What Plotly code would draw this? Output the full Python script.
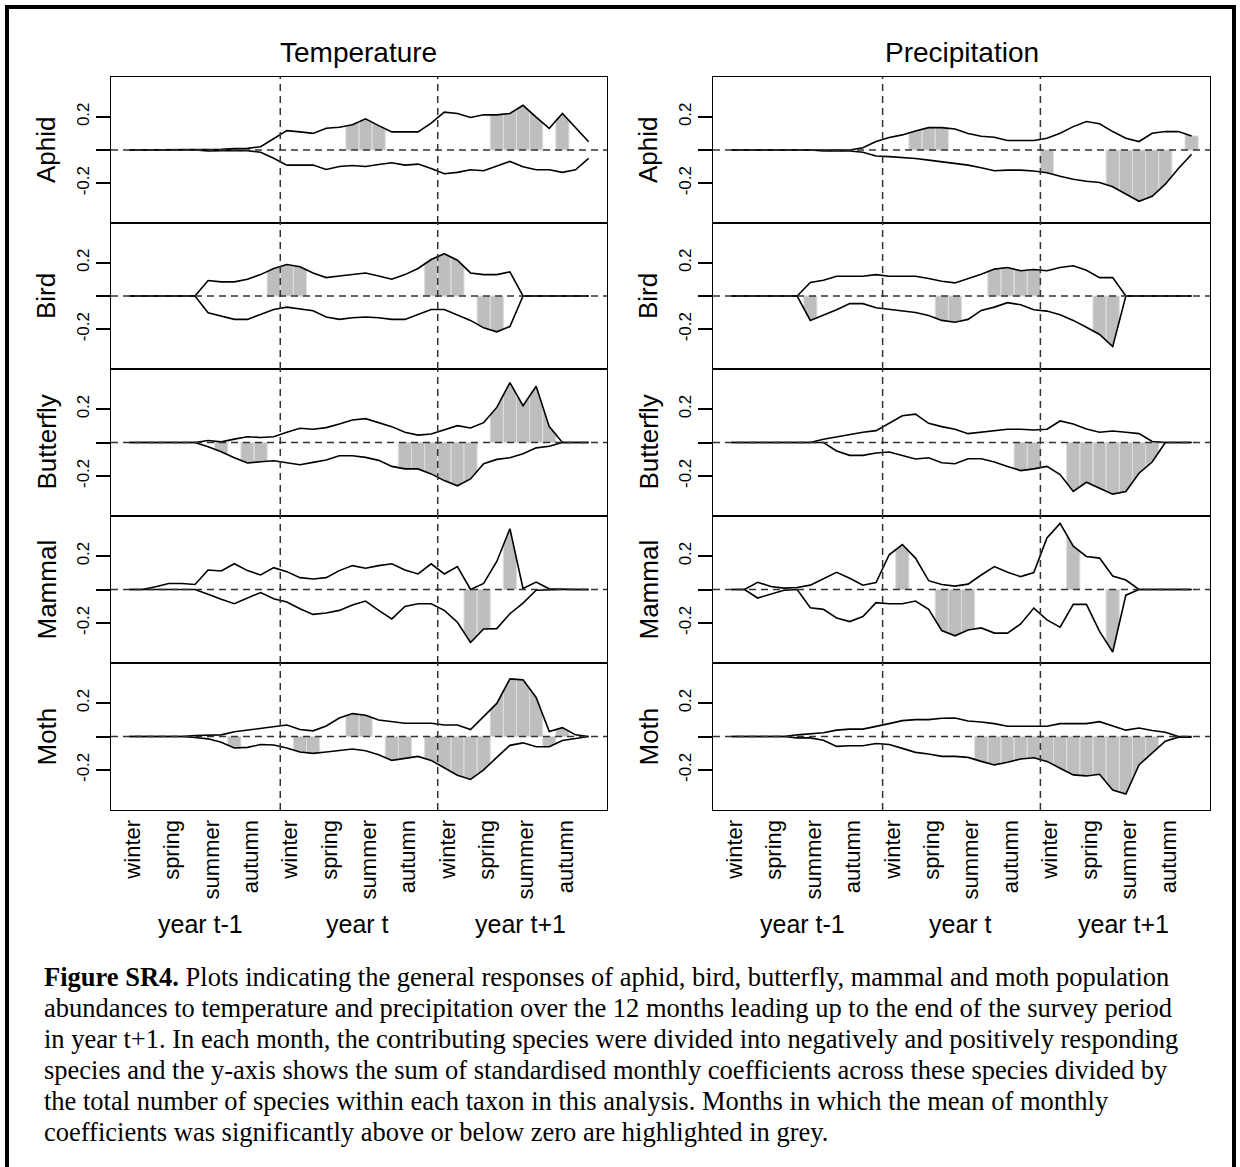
import numpy as np
import plotly.graph_objects as go

W, H = 1240, 1167
months = list(range(1, 37))

taxa = ["Aphid", "Bird", "Butterfly", "Mammal", "Moth"]
columns = ["Temperature", "Precipitation"]
season_labels = ["winter", "spring", "summer", "autumn"] * 3
season_ticks = [1, 4, 7, 10, 13, 16, 19, 22, 25, 28, 31, 34]
year_labels = ["year t-1", "year t", "year t+1"]
year_pos = [6.4, 18.4, 30.8]
year_breaks = [12.5, 24.5]

# ---- Temperature ----
temp_aphid_pos = [0, 0, 0, 0, 0, 0, 0, 0.004, 0.008, 0.01, 0.02, 0.07, 0.117, 0.109, 0.10, 0.131, 0.137, 0.152,
                  0.188, 0.147, 0.109, 0.109, 0.109, 0.162, 0.228, 0.22, 0.196, 0.212, 0.212, 0.22, 0.269, 0.198,
                  0.131, 0.22, 0.137, 0.05]
temp_aphid_neg = [0, 0, 0, 0, 0, 0, -0.005, -0.003, -0.002, -0.004, -0.014, -0.05, -0.091, -0.091, -0.091, -0.117,
                  -0.099, -0.093, -0.099, -0.087, -0.077, -0.091, -0.085, -0.111, -0.143, -0.135, -0.119, -0.125,
                  -0.099, -0.069, -0.101, -0.119, -0.119, -0.135, -0.119, -0.051]
temp_aphid_sig_pos = [18, 19, 20, 29, 30, 31, 32, 34]
temp_aphid_sig_neg = []

temp_bird_pos = [0, 0, 0, 0, 0, 0, 0.093, 0.085, 0.085, 0.101, 0.129, 0.166, 0.190, 0.176, 0.139, 0.111, 0.121,
                 0.129, 0.139, 0.121, 0.101, 0.129, 0.166, 0.22, 0.255, 0.216, 0.139, 0.129, 0.129, 0.145, 0, 0,
                 0, 0, 0, 0]
temp_bird_neg = [0, 0, 0, 0, 0, 0, -0.101, -0.121, -0.141, -0.141, -0.113, -0.081, -0.067, -0.077, -0.089, -0.127,
                 -0.141, -0.131, -0.127, -0.131, -0.141, -0.141, -0.113, -0.081, -0.081, -0.113, -0.147, -0.192,
                 -0.216, -0.184, 0, 0, 0, 0, 0, 0]
temp_bird_sig_pos = [12, 13, 14, 24, 25, 26]
temp_bird_sig_neg = [28, 29]

temp_butterfly_pos = [0, 0, 0, 0, 0, 0, 0.012, 0.004, 0.02, 0.034, 0.030, 0.034, 0.061, 0.085, 0.079, 0.089, 0.111,
                      0.135, 0.143, 0.119, 0.095, 0.061, 0.044, 0.051, 0.075, 0.101, 0.087, 0.119, 0.210, 0.358,
                      0.220, 0.337, 0.095, 0, 0, 0]
temp_butterfly_neg = [0, 0, 0, 0, 0, 0, -0.026, -0.055, -0.091, -0.123, -0.115, -0.109, -0.121, -0.133, -0.119,
                      -0.105, -0.079, -0.079, -0.089, -0.107, -0.143, -0.158, -0.158, -0.188, -0.228, -0.259, -0.218,
                      -0.127, -0.101, -0.091, -0.067, -0.032, -0.022, 0, 0, 0]
temp_butterfly_sig_pos = [29, 30, 31, 32, 33]
temp_butterfly_sig_neg = [8, 10, 11, 22, 23, 24, 25, 26, 27]

temp_mammal_pos = [0, 0, 0.016, 0.036, 0.036, 0.030, 0.117, 0.111, 0.154, 0.113, 0.087, 0.131, 0.107, 0.071, 0.063,
                   0.071, 0.113, 0.143, 0.127, 0.143, 0.154, 0.117, 0.093, 0.154, 0.093, 0.137, 0.0, 0.036, 0.168,
                   0.364, 0.006, 0.044, 0.004, 0, 0, 0]
temp_mammal_neg = [0, 0, 0, 0, 0, 0, -0.028, -0.059, -0.085, -0.051, -0.018, -0.055, -0.075, -0.115, -0.149, -0.141,
                   -0.125, -0.093, -0.069, -0.125, -0.176, -0.101, -0.085, -0.085, -0.125, -0.196, -0.317, -0.236,
                   -0.234, -0.145, -0.081, -0.004, 0, 0, 0, 0]
temp_mammal_sig_pos = [30]
temp_mammal_sig_neg = [27, 28]

temp_moth_pos = [0, 0, 0, 0, 0, 0.006, 0.01, 0.01, 0.028, 0.038, 0.051, 0.061, 0.069, 0.042, 0.034, 0.063, 0.111,
                 0.137, 0.127, 0.099, 0.089, 0.079, 0.079, 0.079, 0.069, 0.069, 0.042, 0.117, 0.198, 0.345, 0.339,
                 0.234, 0.030, 0.053, 0.01, 0]
temp_moth_neg = [0, 0, 0, 0, 0, -0.006, -0.014, -0.034, -0.069, -0.065, -0.048, -0.051, -0.069, -0.093, -0.101,
                 -0.093, -0.085, -0.075, -0.085, -0.109, -0.143, -0.133, -0.119, -0.143, -0.19, -0.232, -0.257,
                 -0.200, -0.125, -0.053, -0.038, -0.061, -0.061, -0.024, -0.012, 0]
temp_moth_sig_pos = [18, 19, 29, 30, 31, 32, 34]
temp_moth_sig_neg = [9, 14, 15, 21, 22, 24, 25, 26, 27, 28, 33]

# ---- Precipitation ----
prec_aphid_pos = [0, 0, 0, 0, 0, 0, 0, 0, 0, 0, 0.014, 0.051, 0.075, 0.091, 0.115, 0.135, 0.135, 0.127, 0.099,
                  0.083, 0.077, 0.057, 0.057, 0.057, 0.071, 0.101, 0.141, 0.172, 0.158, 0.111, 0.071, 0.051, 0.101,
                  0.111, 0.111, 0.085]
prec_aphid_neg = [0, 0, 0, 0, 0, 0, 0, -0.006, -0.006, -0.006, -0.014, -0.036, -0.040, -0.044, -0.051, -0.061,
                  -0.071, -0.085, -0.091, -0.107, -0.125, -0.121, -0.121, -0.127, -0.137, -0.158, -0.176, -0.188,
                  -0.196, -0.222, -0.265, -0.309, -0.279, -0.206, -0.111, -0.026]
prec_aphid_sig_pos = [15, 16, 17, 36]
prec_aphid_sig_neg = [25, 30, 31, 32, 33, 34]

prec_bird_pos = [0, 0, 0, 0, 0, 0, 0.081, 0.095, 0.119, 0.119, 0.119, 0.129, 0.119, 0.119, 0.119, 0.105, 0.089,
                 0.079, 0.105, 0.131, 0.162, 0.172, 0.152, 0.160, 0.152, 0.172, 0.182, 0.155, 0.111, 0.111, 0, 0,
                 0, 0, 0, 0]
prec_bird_neg = [0, 0, 0, 0, 0, 0, -0.147, -0.117, -0.083, -0.046, -0.046, -0.071, -0.081, -0.087, -0.099, -0.117,
                 -0.147, -0.158, -0.141, -0.087, -0.067, -0.040, -0.053, -0.083, -0.091, -0.113, -0.147, -0.188,
                 -0.232, -0.305, 0, 0, 0, 0, 0, 0]
prec_bird_sig_pos = [21, 22, 23, 24]
prec_bird_sig_neg = [7, 17, 18, 29, 30]

prec_butterfly_pos = [0, 0, 0, 0, 0, 0, 0, 0.020, 0.034, 0.044, 0.061, 0.071, 0.115, 0.160, 0.170, 0.115, 0.095,
                      0.079, 0.053, 0.063, 0.069, 0.079, 0.079, 0.075, 0.079, 0.129, 0.111, 0.081, 0.061, 0.069,
                      0.061, 0.053, 0.006, 0, 0, 0]
prec_butterfly_neg = [0, 0, 0, 0, 0, 0, 0, 0, -0.051, -0.077, -0.077, -0.063, -0.057, -0.077, -0.099, -0.091,
                      -0.121, -0.127, -0.097, -0.097, -0.117, -0.143, -0.168, -0.158, -0.143, -0.192, -0.293, -0.238,
                      -0.275, -0.309, -0.293, -0.184, -0.117, 0, 0, 0]
prec_butterfly_sig_pos = []
prec_butterfly_sig_neg = [23, 24, 27, 28, 29, 30, 31, 32, 33]

prec_mammal_pos = [0, 0, 0.043, 0.018, 0.008, 0.012, 0.026, 0.067, 0.103, 0.067, 0.026, 0.042, 0.208, 0.269, 0.188,
                   0.053, 0.030, 0.020, 0.032, 0.087, 0.137, 0.103, 0.077, 0.101, 0.309, 0.396, 0.259, 0.198, 0.188,
                   0.081, 0.057, 0, 0, 0, 0, 0]
prec_mammal_neg = [0, 0, -0.051, -0.026, -0.004, 0, -0.109, -0.119, -0.170, -0.192, -0.162, -0.079, -0.085, -0.085,
                   -0.069, -0.119, -0.246, -0.277, -0.242, -0.230, -0.261, -0.261, -0.206, -0.111, -0.182, -0.226,
                   -0.089, -0.089, -0.251, -0.374, -0.034, 0, 0, 0, 0, 0]
prec_mammal_sig_pos = [14, 27]
prec_mammal_sig_neg = [17, 18, 19, 30]

prec_moth_pos = [0, 0, 0, 0, 0, 0.01, 0.014, 0.022, 0.038, 0.044, 0.044, 0.059, 0.077, 0.095, 0.101, 0.101, 0.109,
                 0.111, 0.093, 0.087, 0.077, 0.061, 0.061, 0.061, 0.061, 0.077, 0.077, 0.077, 0.089, 0.063, 0.038,
                 0.051, 0.036, 0.026, 0, 0]
prec_moth_neg = [0, 0, 0, 0, 0, -0.008, -0.008, -0.022, -0.059, -0.055, -0.055, -0.042, -0.048, -0.071, -0.095,
                 -0.105, -0.119, -0.119, -0.125, -0.149, -0.170, -0.154, -0.135, -0.127, -0.149, -0.190, -0.230,
                 -0.236, -0.226, -0.321, -0.345, -0.170, -0.099, -0.028, -0.004, -0.004]
prec_moth_sig_pos = []
prec_moth_sig_neg = [20, 21, 22, 23, 24, 25, 26, 27, 28, 29, 30, 31, 32, 33]

caption_lines = [
    "<b>Figure SR4.</b> Plots indicating the general responses of aphid, bird, butterfly, mammal and moth population",
    "abundances to temperature and precipitation over the 12 months leading up to the end of the survey period",
    "in year t+1. In each month, the contributing species were divided into negatively and positively responding",
    "species and the y-axis shows the sum of standardised monthly coefficients across these species divided by",
    "the total number of species within each taxon in this analysis. Months in which the mean of monthly",
    "coefficients was significantly above or below zero are highlighted in grey.",
]

panels = {
    ("Temperature", "Aphid"): (temp_aphid_pos, temp_aphid_neg, temp_aphid_sig_pos, temp_aphid_sig_neg),
    ("Temperature", "Bird"): (temp_bird_pos, temp_bird_neg, temp_bird_sig_pos, temp_bird_sig_neg),
    ("Temperature", "Butterfly"): (temp_butterfly_pos, temp_butterfly_neg, temp_butterfly_sig_pos, temp_butterfly_sig_neg),
    ("Temperature", "Mammal"): (temp_mammal_pos, temp_mammal_neg, temp_mammal_sig_pos, temp_mammal_sig_neg),
    ("Temperature", "Moth"): (temp_moth_pos, temp_moth_neg, temp_moth_sig_pos, temp_moth_sig_neg),
    ("Precipitation", "Aphid"): (prec_aphid_pos, prec_aphid_neg, prec_aphid_sig_pos, prec_aphid_sig_neg),
    ("Precipitation", "Bird"): (prec_bird_pos, prec_bird_neg, prec_bird_sig_pos, prec_bird_sig_neg),
    ("Precipitation", "Butterfly"): (prec_butterfly_pos, prec_butterfly_neg, prec_butterfly_sig_pos, prec_butterfly_sig_neg),
    ("Precipitation", "Mammal"): (prec_mammal_pos, prec_mammal_neg, prec_mammal_sig_pos, prec_mammal_sig_neg),
    ("Precipitation", "Moth"): (prec_moth_pos, prec_moth_neg, prec_moth_sig_pos, prec_moth_sig_neg),
}

# ---- layout geometry (pixels) ----
col_x = [(111, 607), (713, 1210)]
row_edges = [77, 223, 369, 516, 663, 810]
label_x = [46, 648]
SANS = "Liberation Sans, Arial, Helvetica, sans-serif"
SERIF = "Liberation Serif, Times New Roman, serif"

fig = go.Figure()
layout = dict(
    width=W, height=H, margin=dict(l=0, r=0, t=0, b=0),
    paper_bgcolor="white", plot_bgcolor="white", showlegend=False,
    font=dict(family=SANS, color="black"),
)
shapes = []
annotations = []

mx = np.array(months, dtype=float)
for ci, col in enumerate(columns):
    for ri, taxon in enumerate(taxa):
        p = ri * 2 + ci + 1
        xa = "x" if p == 1 else f"x{p}"
        ya = "y" if p == 1 else f"y{p}"
        pos, neg, sig_pos, sig_neg = panels[(col, taxon)]
        pos = np.array(pos, dtype=float)
        neg = np.array(neg, dtype=float)

        # grey significant-month polygons
        px, py = [], []
        for series, sig in ((pos, sig_pos), (neg, sig_neg)):
            for m in sig:
                a, b = m - 0.5, m + 0.5
                px += [a, a, m, b, b, a, None]
                py += [0, float(np.interp(a, mx, series)), float(series[m - 1]),
                       float(np.interp(b, mx, series)), 0, 0, None]
        if px:
            fig.add_trace(go.Scatter(x=px, y=py, xaxis=xa, yaxis=ya, mode="lines",
                                     fill="toself", fillcolor="#bebebe",
                                     line=dict(color="#dcdcdc", width=1), hoverinfo="skip"))
        for series in (pos, neg):
            fig.add_trace(go.Scatter(x=months, y=series, xaxis=xa, yaxis=ya, mode="lines",
                                     line=dict(color="black", width=1.6), hoverinfo="skip"))

        x0, x1 = col_x[ci]
        top, bot = row_edges[ri], row_edges[ri + 1]
        xkey = "xaxis" if p == 1 else f"xaxis{p}"
        ykey = "yaxis" if p == 1 else f"yaxis{p}"
        bottom_row = ri == len(taxa) - 1
        layout[xkey] = dict(
            domain=[x0 / W, x1 / W], range=[-0.4, 37.4], anchor=ya,
            showline=True, mirror=True, linecolor="black", linewidth=1.3,
            showgrid=False, zeroline=False, ticks="",
            showticklabels=bottom_row, tickvals=[t + 0.25 for t in season_ticks], ticktext=season_labels,
            tickangle=-90, tickfont=dict(size=22, family=SANS), ticklabelstandoff=0,
        )
        layout[ykey] = dict(
            domain=[1 - bot / H, 1 - top / H], range=[-0.44, 0.44], anchor=xa,
            showline=True, mirror=True, linecolor="black", linewidth=1.3,
            showgrid=False, zeroline=False, ticks="outside", ticklen=14, tickwidth=1.5,
            tickcolor="black", tickvals=[-0.2, 0, 0.2], ticktext=["-0.2", "", "0.2"],
            tickangle=-90, tickfont=dict(size=17, family=SANS),
        )
        # dashed reference lines
        shapes.append(dict(type="line", xref=f"{xa} domain", yref=ya, x0=0, x1=1, y0=0, y1=0,
                           line=dict(color="#333333", width=1.5, dash="7px,5px"), layer="above"))
        for xb in year_breaks:
            shapes.append(dict(type="line", xref=xa, yref=f"{ya} domain", x0=xb, x1=xb, y0=0, y1=1,
                               line=dict(color="#333333", width=1.5, dash="7px,5px"), layer="above"))
        # taxon label
        annotations.append(dict(text=taxon, xref="paper", yref="paper", x=label_x[ci] / W,
                                y=1 - (top + bot) / 2 / H, textangle=-90, showarrow=False,
                                font=dict(size=26, family=SANS), xanchor="center", yanchor="middle"))
        if bottom_row:
            for lab, xp in zip(year_labels, year_pos):
                annotations.append(dict(text=lab, xref=xa, yref="paper", x=xp, y=1 - 924 / H,
                                        showarrow=False, font=dict(size=25, family=SANS),
                                        xanchor="center", yanchor="middle"))
    # column title
    annotations.append(dict(text=col, xref="paper", yref="paper", x=(col_x[ci][0] + col_x[ci][1]) / 2 / W,
                            y=1 - 53 / H, showarrow=False, font=dict(size=28, family=SANS),
                            xanchor="center", yanchor="middle"))

# caption
for k, line in enumerate(caption_lines):
    annotations.append(dict(text=line, xref="paper", yref="paper", x=42 / W, y=1 - (977 + 31 * k) / H,
                            showarrow=False, font=dict(size=26.5, family=SERIF), xanchor="left",
                            yanchor="middle", align="left"))

# outer frame (left, top, right edges)
frame = dict(color="black", width=4)
shapes.append(dict(type="line", xref="paper", yref="paper", x0=7 / W, x1=7 / W, y0=0, y1=1 - 5 / H,
                   line=frame, layer="above"))
shapes.append(dict(type="line", xref="paper", yref="paper", x0=5 / W, x1=1 - 4 / W, y0=1 - 7 / H, y1=1 - 7 / H,
                   line=frame, layer="above"))
shapes.append(dict(type="line", xref="paper", yref="paper", x0=1 - 6 / W, x1=1 - 6 / W, y0=0, y1=1 - 5 / H,
                   line=frame, layer="above"))

layout["shapes"] = shapes
layout["annotations"] = annotations
fig.update_layout(**layout)
fig.write_html("out.html", config={"displayModeBar": False},
               post_script="document.body.style.margin='0';")
